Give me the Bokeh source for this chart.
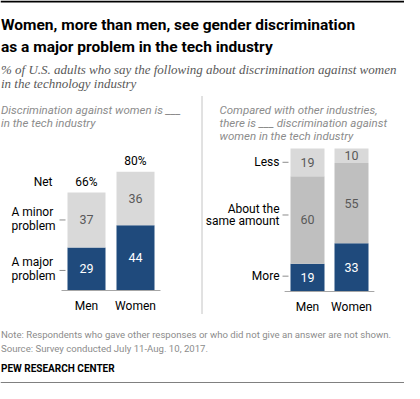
from bokeh.plotting import figure
from bokeh.models import Range1d, ColumnDataSource, LabelSet, Label
from bokeh.core.properties import value
from bokeh.embed import file_html
from bokeh.resources import INLINE

# ---------------- data ----------------
cats = ["Men", "Women"]
left_major = [29, 44]
left_minor = [37, 36]
left_net = [66, 80]
right_more = [19, 33]
right_same = [60, 55]
right_less = [19, 10]

BLUE = "#1f4a7c"
LIGHT = "#d9d9d9"
MID = "#bfbfbf"
SANS = "Roboto"
SERIF = "Liberation Serif"

W, H = 404, 383
p = figure(width=W, height=H, output_backend="svg", toolbar_location=None,
           min_border=0, x_axis_location=None, y_axis_location=None,
           x_range=Range1d((8 - 94) / 49, (412 - 94) / 49),
           y_range=Range1d((298 - 391) / 1.485, (298 - 8) / 1.485))
p.grid.visible = False
p.outline_line_color = None
p.background_fill_color = "white"
p.border_fill_color = "white"
p.extra_x_ranges = {"px": Range1d(8, 412), "rx": Range1d((8 - 315) / 44, (412 - 315) / 44)}
p.extra_y_ranges = {"py": Range1d(391, 8), "ry": Range1d((299 - 391) / 1.46, (299 - 8) / 1.46)}

xs = list(range(len(cats)))

# ---------------- left panel ----------------
ls = ColumnDataSource(dict(
    x=xs, cat=cats, major=left_major, minor=left_minor, net=left_net,
    major_mid=[m / 2 for m in left_major],
    minor_mid=[m + n / 2 for m, n in zip(left_major, left_minor)],
    top=[m + n for m, n in zip(left_major, left_minor)],
    major_t=[str(v) for v in left_major], minor_t=[str(v) for v in left_minor],
    net_t=[f"{v}%" for v in left_net]))
p.vbar_stack(["major", "minor"], x="x", width=38 / 49, fill_color=[BLUE, LIGHT],
             line_color=None, source=ls)
p.segment(x0=[-0.51], x1=[len(cats) - 1 + 0.51], y0=[0], y1=[0], line_color="#a6a6a6", line_width=1)
F = value(SANS)
p.add_layout(LabelSet(x="x", y="major_mid", text="major_t", source=ls, text_color="white",
                      text_font=F, text_font_size="12.5px", text_align="center", text_baseline="middle"))
p.add_layout(LabelSet(x="x", y="minor_mid", text="minor_t", source=ls, text_color="#595959",
                      text_font=F, text_font_size="12.5px", text_align="center", text_baseline="middle"))
p.add_layout(LabelSet(x="x", y="top", text="net_t", source=ls, text_color="#000000", y_offset=10.5,
                      text_font=F, text_font_size="12px", text_align="center", text_baseline="middle"))
p.add_layout(LabelSet(x="x", y=313.5, y_range_name="py", text="cat", source=ls, text_color="#000000",
                      text_font=F, text_font_size="12px", text_align="center", text_baseline="middle"))

# ---------------- right panel ----------------
rs = ColumnDataSource(dict(
    x=xs, cat=cats, more=right_more, same=right_same, less=right_less,
    more_mid=[a / 2 for a in right_more],
    same_mid=[a + b / 2 for a, b in zip(right_more, right_same)],
    less_mid=[a + b + c / 2 for a, b, c in zip(right_more, right_same, right_less)],
    more_t=[str(v) for v in right_more], same_t=[str(v) for v in right_same],
    less_t=[str(v) for v in right_less]))
p.vbar_stack(["more", "same", "less"], x="x", width=34 / 44, fill_color=[BLUE, MID, LIGHT],
             line_color=None, source=rs, x_range_name="rx", y_range_name="ry")
p.segment(x0=[-0.52], x1=[len(cats) - 1 + 0.52], y0=[0], y1=[0], line_color="#a6a6a6",
          line_width=1, x_range_name="rx", y_range_name="ry")
for col, colr in [("more", "white"), ("same", "#595959"), ("less", "#595959")]:
    p.add_layout(LabelSet(x="x", y=col + "_mid", text=col + "_t", source=rs, text_color=colr,
                          x_range_name="rx", y_range_name="ry",
                          text_font=F, text_font_size="12.5px", text_align="center", text_baseline="middle"))
p.add_layout(LabelSet(x="x", y=314, y_range_name="py", x_range_name="rx", text="cat", source=rs,
                      text_color="#000000", text_font=F, text_font_size="12px",
                      text_align="center", text_baseline="middle"))


def lab(text, x, y, size, color="#000000", style="normal", align="left", baseline="alphabetic",
        font=SANS, xr="px", yr="py", yo=0):
    p.add_layout(Label(x=x, y=y, text=text, x_range_name=xr, y_range_name=yr, text_font=font,
                       text_font_size=f"{size}px", text_color=color, text_font_style=style,
                       text_align=align, text_baseline=baseline, y_offset=yo))


# left category-level labels + ticks
lab("Net", 60, left_net[0], 12, align="right", baseline="middle", yr="default", yo=10.5)
minor_mid0 = left_major[0] + left_minor[0] / 2
major_mid0 = left_major[0] / 2
lab("A minor", 19, minor_mid0, 12, baseline="middle", yr="default", yo=7.5)
lab("problem", 19, minor_mid0, 12, baseline="middle", yr="default", yo=-6.5)
lab("A major", 19, major_mid0, 12, baseline="middle", yr="default", yo=7)
lab("problem", 19, major_mid0, 12, baseline="middle", yr="default", yo=-7)
p.segment(x0=[67, 67], x1=[73, 73], y0=[minor_mid0, major_mid0 - 1], y1=[minor_mid0, major_mid0 - 1],
          x_range_name="px", line_color="#8c8c8c", line_width=1)

# right labels + ticks
less_mid0 = right_more[0] + right_same[0] + right_less[0] / 2
same_mid0 = right_more[0] + right_same[0] / 2
more_mid0 = right_more[0] / 2
lab("Less", 287, less_mid0, 12, align="right", baseline="middle", yr="ry")
lab("About the", 287, same_mid0, 12, align="right", baseline="middle", yr="ry", yo=11)
lab("same amount", 287, same_mid0, 12, align="right", baseline="middle", yr="ry", yo=-1.5)
lab("More", 287, more_mid0, 12, align="right", baseline="middle", yr="ry", yo=1.5)
p.segment(x0=[290, 290, 290], x1=[296, 296, 296], y0=[less_mid0, same_mid0 + 3.4, more_mid0 + 1],
          y1=[less_mid0, same_mid0 + 3.4, more_mid0 + 1], x_range_name="px", y_range_name="ry",
          line_color="#8c8c8c", line_width=1)

# divider, rules
p.segment(x0=[209.5], x1=[209.5], y0=[104], y1=[321], x_range_name="px", y_range_name="py",
          line_color="#888888", line_width=1, line_dash="1 1")
p.segment(x0=[8], x1=[412], y0=[9], y1=[9], x_range_name="px", y_range_name="py",
          line_color="#000000", line_width=2)
p.segment(x0=[8], x1=[412], y0=[390.5], y1=[390.5], x_range_name="px", y_range_name="py",
          line_color="#000000", line_width=1)

# titles
lab("Women, more than men, see gender discrimination", 8.5, 32, 15.5, style="bold")
lab("as a major problem in the tech industry", 8.5, 54, 15.5, style="bold")
lab("% of U.S. adults who say the following about discrimination against women", 8.5, 77, 13.0,
    color="#595959", style="italic", font=SERIF)
lab("in the technology industry", 8.5, 90.5, 13.0, color="#595959", style="italic", font=SERIF)

lab("Discrimination against women is ___", 8.5, 117.5, 11.5, color="#8c8c8c", style="italic")
lab("in the tech industry", 8.5, 130.5, 11.5, color="#8c8c8c", style="italic")
lab("Compared  with other industries,", 227, 117.5, 11.5, color="#8c8c8c", style="italic")
lab("there is ___ discrimination against", 227, 130.5, 11.5, color="#8c8c8c", style="italic")
lab("women in the tech industry", 227, 143.5, 11.5, color="#8c8c8c", style="italic")

lab("Note: Respondents who gave other responses or who did not give an answer are not shown.",
    8.5, 342, 9.6, color="#8c8c8c")
lab("Source: Survey conducted July 11-Aug. 10, 2017.", 8.5, 355.5, 9.6, color="#8c8c8c")
lab("PEW RESEARCH CENTER", 8.5, 376, 10, style="bold")

open("out.html", "w").write(file_html(p, INLINE))
